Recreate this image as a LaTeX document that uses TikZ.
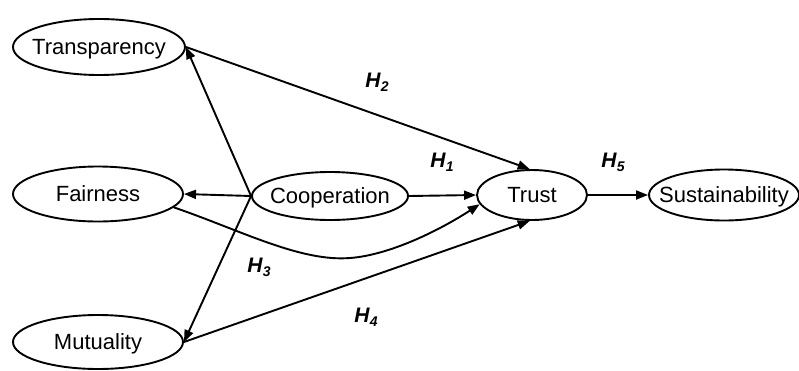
\documentclass[tikz,border=0pt]{standalone}
\usepackage{fontspec}
\setmainfont{Liberation Sans}
\usetikzlibrary{shapes.geometric,arrows.meta}

% zero-width text so the oval keeps its own size
\newcommand{\ovaltext}[1]{\makebox[0pt]{#1}}
% hypothesis label: bold italic H with a small bold italic index
\newcommand{\hyplabel}[1]{\textbf{\textit{H}}\raisebox{-0.35ex}{\fontsize{14}{14}\selectfont\bfseries\itshape #1}}

\begin{document}
\begin{tikzpicture}[x=1pt,y=-1pt,
  construct/.style={ellipse,draw,line width=1.9pt,inner sep=0pt,
    font=\fontsize{22}{26}\selectfont,text height=15.5pt,text depth=0pt},
  link/.style={line width=1.9pt,-{Triangle[length=12pt,width=9pt]}},
  hyp/.style={font=\fontsize{21}{25}\selectfont,inner sep=0pt}]
  \useasboundingbox (0,0) rectangle (799,370);

  % constructs
  \node[construct,minimum width=172pt,minimum height=56pt] (transp) at (99,47) {\ovaltext{Transparency}};
  \node[construct,minimum width=170pt,minimum height=55pt] (fair) at (98,194) {\ovaltext{Fairness}};
  \node[construct,minimum width=170pt,minimum height=54pt] (mutu) at (98,342) {\ovaltext{Mutuality}};
  \node[construct,minimum width=156pt,minimum height=48pt] (coop) at (330,196) {\ovaltext{Cooperation}};
  \node[construct,minimum width=110pt,minimum height=50pt] (trust) at (532,195) {\ovaltext{Trust}};
  \node[construct,minimum width=150pt,minimum height=51pt] (sust) at (724,195) {\ovaltext{Sustainability}};

  % cooperation drives the three relational dimensions
  \draw[link] (coop.west) -- (transp.east);
  \draw[link] (coop.west) -- (fair.east);
  \draw[link] (coop.west) -- (mutu.east);

  % paths into trust
  \draw[link] (coop.east) -- (trust.west);
  \draw[link] (transp.east) -- (trust.95);
  \draw[link] (mutu.east) -- (trust.265);
  \draw[link] (fair.-10) .. controls (240,230) and (300,262) .. (350,258)
                         .. controls (390,255) and (440,230) .. (trust.190);

  % trust to sustainability
  \draw[link] (trust.east) -- (sust.west);

  % hypothesis labels
  \node[hyp] (h2) at (377,82) {\hyplabel{2}};
  \node[hyp] (h1) at (442,162) {\hyplabel{1}};
  \node[hyp] (h5) at (613,162) {\hyplabel{5}};
  \node[hyp] (h3) at (259,267) {\hyplabel{3}};
  \node[hyp] (h4) at (366,317) {\hyplabel{4}};
\end{tikzpicture}
\end{document}
